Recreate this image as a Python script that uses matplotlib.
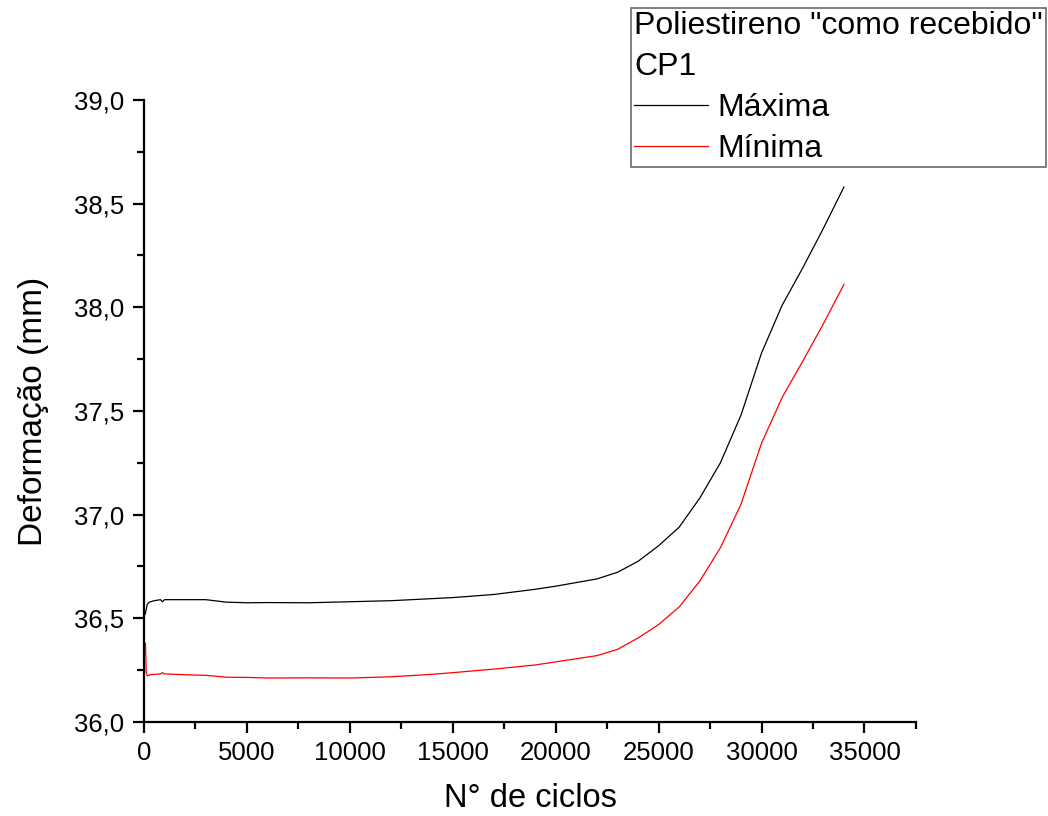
import matplotlib
matplotlib.use("Agg")
import matplotlib.pyplot as plt
from matplotlib.ticker import MultipleLocator, FuncFormatter

plt.rcParams['font.family'] = ['Liberation Sans', 'DejaVu Sans']

# data
ciclos_max = [60, 150, 250, 500, 800, 900, 1000, 2000, 3000, 4000, 5000, 6000, 8000,
              10000, 12000, 15000, 17000, 19000, 20000, 22000, 23000, 24000, 25000,
              26000, 27000, 28000, 29000, 30000, 31000, 32000, 33000, 34000]
deform_max = [36.52, 36.565, 36.578, 36.585, 36.59, 36.58, 36.59, 36.59, 36.59, 36.578,
              36.575, 36.576, 36.575, 36.58, 36.585, 36.60, 36.615, 36.64, 36.655,
              36.69, 36.722, 36.775, 36.85, 36.94, 37.08, 37.25, 37.48, 37.78, 38.01,
              38.19, 38.38, 38.58]

ciclos_min = [70, 110, 160, 300, 800, 900, 1000, 2000, 3000, 4000, 5000, 6000, 8000,
              10000, 11000, 12000, 14000, 15000, 17000, 19000, 20000, 22000, 23000,
              24000, 25000, 26000, 27000, 28000, 29000, 30000, 31000, 32000, 33000, 34000]
deform_min = [36.38, 36.24, 36.222, 36.228, 36.232, 36.238, 36.232, 36.228, 36.225,
              36.216, 36.215, 36.212, 36.213, 36.212, 36.215, 36.218, 36.23, 36.238,
              36.255, 36.275, 36.29, 36.32, 36.35, 36.405, 36.47, 36.555, 36.68, 36.84,
              37.05, 37.345, 37.565, 37.74, 37.92, 38.11]

fig = plt.figure(figsize=(10.48, 8.16), dpi=100)
ax = fig.add_axes([0.1374, 0.1152, 0.7366, 0.7623])

ax.plot(ciclos_max, deform_max, color='black', lw=0.9, label='Máxima')
ax.plot(ciclos_min, deform_min, color='red', lw=0.9, label='Mínima')

ax.set_xlim(0, 37500)
ax.set_ylim(36.0, 39.0)
ax.xaxis.set_major_locator(MultipleLocator(5000))
ax.xaxis.set_minor_locator(MultipleLocator(2500))
ax.yaxis.set_major_locator(MultipleLocator(0.5))
ax.yaxis.set_minor_locator(MultipleLocator(0.25))
ax.yaxis.set_major_formatter(FuncFormatter(lambda v, p: f"{v:.1f}".replace('.', ',')))

for side in ['top', 'right']:
    ax.spines[side].set_visible(False)
for side in ['left', 'bottom']:
    ax.spines[side].set_linewidth(1.6)
ax.tick_params(which='major', length=8, width=1.6, labelsize=18.5, direction='out', pad=6)
ax.tick_params(which='minor', length=5, width=1.6, direction='out')

ax.set_xlabel('N° de ciclos', fontsize=23.5, labelpad=13)
ax.set_ylabel('Deformação (mm)', fontsize=24, labelpad=18)

leg = fig.legend(loc='upper left', bbox_to_anchor=(0.602, 0.99),
                 title='Poliestireno "como recebido"\nCP1', fontsize=23,
                 title_fontsize=23, frameon=True, fancybox=False, edgecolor='#444444',
                 handlelength=2.3, handletextpad=0.3, borderpad=0.1, labelspacing=0.35,
                 borderaxespad=0)
leg._legend_box.align = 'left'
leg.get_title().set_linespacing(1.45)
leg.get_frame().set_linewidth(1.2)

fig.savefig('out.png', dpi=100)
